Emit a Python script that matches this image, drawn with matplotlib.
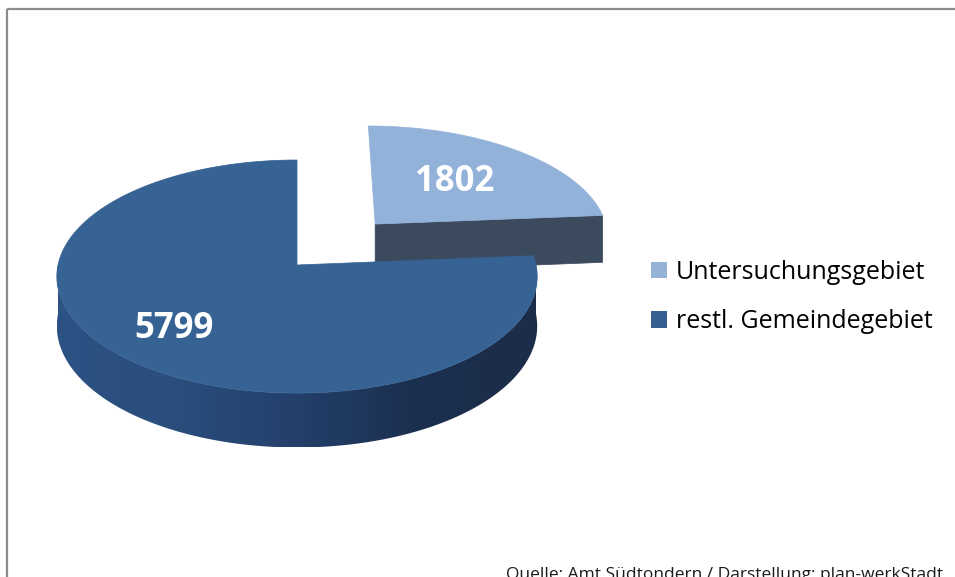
import numpy as np
import matplotlib
matplotlib.use("Agg")
import matplotlib.pyplot as plt
from matplotlib.patches import Polygon, Patch, Rectangle
from matplotlib.colors import LinearSegmentedColormap

plt.rcParams["font.family"] = ["Open Sans", "DejaVu Sans"]

# flat survey data
labels = ["Untersuchungsgebiet", "restl. Gemeindegebiet"]
values = [1802, 5799]
top_colors = ["#93b2d9", "#366294"]
legend_colors = ["#95b3d7", "#376092"]
source = "Quelle: Amt Südtondern / Darstellung: plan-werkStadt"

# pie layout (pixel space, y down)
cx, cy = 297.0, 265.0      # centre of the top face
a, b = 239.0, 115.4        # semi axes of the top ellipse
k = 0.099                  # perspective: far side shrinks
depth = 49.0               # thickness of the disc
explode = [0.5, 0.0]
label_r = [0.55, 0.72]

wall_cmap = LinearSegmentedColormap.from_list(
    "wall", ["#2c5384", "#2a4d7c", "#23406a", "#1b2f4f", "#1b2d49"])


def proj(u, v, z=0.0):
    s = 1.0 / (1.0 + k * v)
    return cx + a * u * s, cy - b * v * s + z * depth * s


fig = plt.figure(figsize=(9.55, 5.77), dpi=100)
ax = fig.add_axes([0, 0, 1, 1])
ax.set_xlim(0, 955)
ax.set_ylim(577, 0)
ax.axis("off")

# chart frame, only left and top edges fall inside the picture
ax.add_patch(Rectangle((7, 9), 1000, 700, fill=False, ec="#8c8c8c", lw=1.6))

fracs = np.array(values) / sum(values)
starts = 90 - 360 * np.concatenate([[0], np.cumsum(fracs)[:-1]])
ends = starts - 360 * fracs

for i in range(len(values)):
    t0, t1 = starts[i], ends[i]
    mid = np.radians((t0 + t1) / 2)
    ou, ov = explode[i] * np.cos(mid), explode[i] * np.sin(mid)
    th = np.radians(np.linspace(t0, t1, 240))
    us, vs = ou + np.cos(th), ov + np.sin(th)

    if i == 0:
        # dark radial face of the exploded slice, facing the viewer
        e = np.radians(t1)
        p = [proj(ou, ov), proj(ou + np.cos(e), ov + np.sin(e)),
             proj(ou + np.cos(e), ov + np.sin(e), 1), proj(ou, ov, 1)]
        ax.add_patch(Polygon(p, closed=True, fc="#3c4a5e", ec="#3c4a5e", lw=0.5))
    else:
        # curved outer wall on the near half, shaded left to right
        front = np.radians(np.linspace(-180, 0, 240))
        upper = [proj(np.cos(q), np.sin(q)) for q in front]
        lower = [proj(np.cos(q), np.sin(q), 1) for q in front[::-1]]
        wall = Polygon(upper + lower, closed=True, fc="none", ec="none")
        ax.add_patch(wall)
        xs = np.array([p[0] for p in upper + lower])
        ys = np.array([p[1] for p in upper + lower])
        grad = np.linspace(0, 1, 256)[None, :]
        img = ax.imshow(grad, cmap=wall_cmap, aspect="auto", interpolation="bilinear",
                        extent=[xs.min(), xs.max(), ys.max(), ys.min()])
        img.set_clip_path(wall)

    pts = [proj(ou, ov)] + [proj(u, v) for u, v in zip(us, vs)]
    ax.add_patch(Polygon(pts, closed=True, fc=top_colors[i], ec=top_colors[i], lw=0.5,
                         zorder=3))

    lx, ly = proj(ou + label_r[i] * np.cos(mid), ov + label_r[i] * np.sin(mid))
    ax.text(lx, ly, f"{values[i]}", color="white", fontsize=25, fontweight="bold",
            ha="center", va="center", zorder=4)

ax.set_xlim(0, 955)
ax.set_ylim(577, 0)

handles = [Patch(fc=c, ec="none") for c in legend_colors]
fig.legend(handles, labels, loc="center left", bbox_to_anchor=(651 / 955, 1 - 297 / 577),
           frameon=False, fontsize=18, handlelength=0.64, handleheight=0.64,
           handletextpad=0.34, labelspacing=0.98, borderaxespad=0, borderpad=0)

ax.text(943, 567, source, fontsize=12.5, ha="right", va="top", color="#1a1a1a")

fig.savefig("out.png", dpi=100)
